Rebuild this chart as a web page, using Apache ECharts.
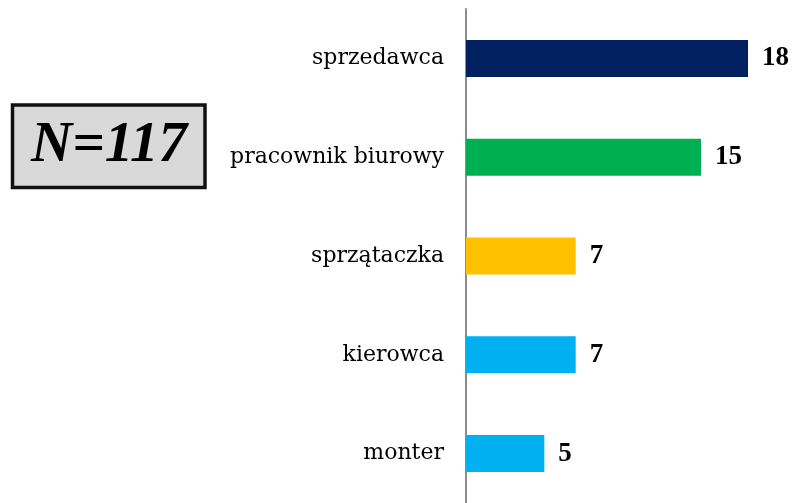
<!DOCTYPE html>
<html>
<head>
    <meta charset="utf-8">
    <title>N=117</title>
    <script src="https://cdn.jsdelivr.net/npm/echarts@6/dist/echarts.min.js"></script>
    <style>
        body { margin: 0; background: #fff; }
        #chart { width: 792px; height: 503px; }
    </style>
</head>
<body>
    <div id="chart"></div>
    <script>
        // categories top to bottom
        const categories = ['sprzedawca', 'pracownik biurowy', 'sprzątaczka', 'kierowca', 'monter'];
        const values = [18, 15, 7, 7, 5];
        const colors = ['#002060', '#00B050', '#FFC000', '#00B0F0', '#00B0F0'];

        const chart = echarts.init(document.getElementById('chart'));

        const option = {
            animation: false,
            grid: { left: 466, top: 9, width: 282, height: 496 },
            xAxis: {
                type: 'value',
                min: 0,
                max: 18,
                show: false
            },
            yAxis: {
                type: 'category',
                inverse: true,
                data: categories,
                axisLine: { lineStyle: { color: '#8c8c8c', width: 2 } },
                axisTick: { show: false },
                axisLabel: {
                    margin: 22,
                    color: '#000',
                    fontFamily: 'DejaVu Serif',
                    fontSize: 22
                }
            },
            series: [{
                type: 'bar',
                barWidth: 37,
                data: values.map((v, i) => ({ value: v, itemStyle: { color: colors[i] } })),
                label: {
                    show: true,
                    position: 'right',
                    distance: 14,
                    color: '#000',
                    fontFamily: 'Liberation Serif',
                    fontWeight: 'bold',
                    fontSize: 27
                }
            }],
            graphic: [{
                type: 'rect',
                shape: { x: 12.5, y: 105, width: 192.5, height: 82.5 },
                style: { fill: '#D9D9D9', stroke: '#111', lineWidth: 3.5 }
            }, {
                type: 'text',
                x: 109,
                y: 146,
                style: {
                    text: 'N=117',
                    fill: '#000',
                    font: 'italic bold 57px "Liberation Serif"',
                    textAlign: 'center',
                    textVerticalAlign: 'middle'
                }
            }]
        };

        chart.setOption(option);
    </script>
</body>
</html>
